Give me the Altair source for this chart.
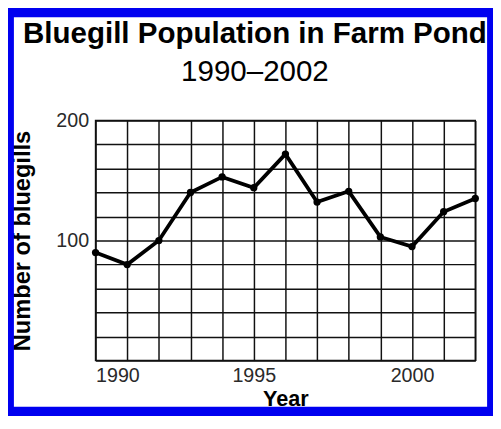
import altair as alt
import pandas as pd

years = [1990, 1991, 1992, 1993, 1994, 1995, 1996, 1997, 1998, 1999, 2000, 2001, 2002]
bluegills = [90, 80, 100, 140, 153, 144, 172, 132, 141, 103, 95, 124, 135]
y_grid = [0, 20, 40, 60, 80, 100, 120, 140, 160, 180, 200]
y_labels = [100, 200]
x_labels = [1990, 1995, 2000]

df = pd.DataFrame({"Year": years, "Number of bluegills": bluegills})

FONT = "Liberation Sans"
W, H = 386, 244
PAD_L, PAD_R, PAD_T, PAD_B = 89, 18, 111, 53
BLUE = "#0000f0"

x_enc = alt.X(
    "Year:Q",
    scale=alt.Scale(domain=[1990, 2002], nice=False, zero=False),
    axis=alt.Axis(
        values=years,
        tickCount=50,
        format="d",
        labelExpr="indexof([" + ",".join(str(v) for v in x_labels) + "], datum.value) >= 0 ? datum.label : ''",
        labelOverlap=False,
        title="Year",
        titleFont=FONT, titleFontSize=22, titleFontWeight="bold", titleColor="black",
        titleY=46, titleBaseline="alphabetic",
        labelFont=FONT, labelFontSize=20, labelColor="#2a2a2a", labelPadding=5,
        ticks=False, domain=False,
        grid=True, gridColor="#111111", gridWidth=1.5, gridOpacity=1,
    ),
)
y_enc = alt.Y(
    "Number of bluegills:Q",
    scale=alt.Scale(domain=[0, 200], nice=False),
    axis=alt.Axis(
        values=y_grid,
        tickCount=50,
        labelExpr="indexof([" + ",".join(str(v) for v in y_labels) + "], datum.value) >= 0 ? datum.label : ''",
        labelOverlap=False,
        title="Number of bluegills",
        titleFont=FONT, titleFontSize=24, titleFontWeight="bold", titleColor="black",
        titleX=-67, titleY=H / 2, titleBaseline="alphabetic", titleAlign="center",
        labelFont=FONT, labelFontSize=20, labelColor="#2a2a2a", labelPadding=7,
        ticks=False, domain=False,
        grid=True, gridColor="#111111", gridWidth=1.5, gridOpacity=1,
    ),
)

line = alt.Chart(df).mark_line(color="black", strokeWidth=3.8).encode(x=x_enc, y=y_enc)
pts = alt.Chart(df).mark_circle(color="black", size=55, opacity=1).encode(x="Year:Q", y="Number of bluegills:Q")

frame = alt.Chart(alt.Data(values=[{"k": 1}])).mark_rect(
    fill="transparent", stroke=BLUE, strokeWidth=12
).encode(
    x=alt.value(-PAD_L), x2=alt.value(W + PAD_R),
    y=alt.value(-PAD_T), y2=alt.value(H + PAD_B),
)

chart = alt.layer(line, pts, frame).properties(
    width=W, height=H,
    padding={"left": PAD_L, "right": PAD_R, "top": PAD_T, "bottom": PAD_B},
    autosize=alt.AutoSizeParams(type="none"),
    background="white",
    title=alt.TitleParams(
        text="Bluegill Population in Farm Pond",
        subtitle="1990–2002",
        font=FONT, fontSize=30, fontWeight="bold", color="black",
        subtitleFont=FONT, subtitleFontSize=30, subtitleFontWeight="normal", subtitleColor="black",
        subtitlePadding=9,
        anchor="middle", dx=-31, offset=-83,
    ),
).configure_view(stroke="#111111", strokeWidth=1.5)

chart.save("out.html", embed_options={"renderer": "svg", "actions": False})
